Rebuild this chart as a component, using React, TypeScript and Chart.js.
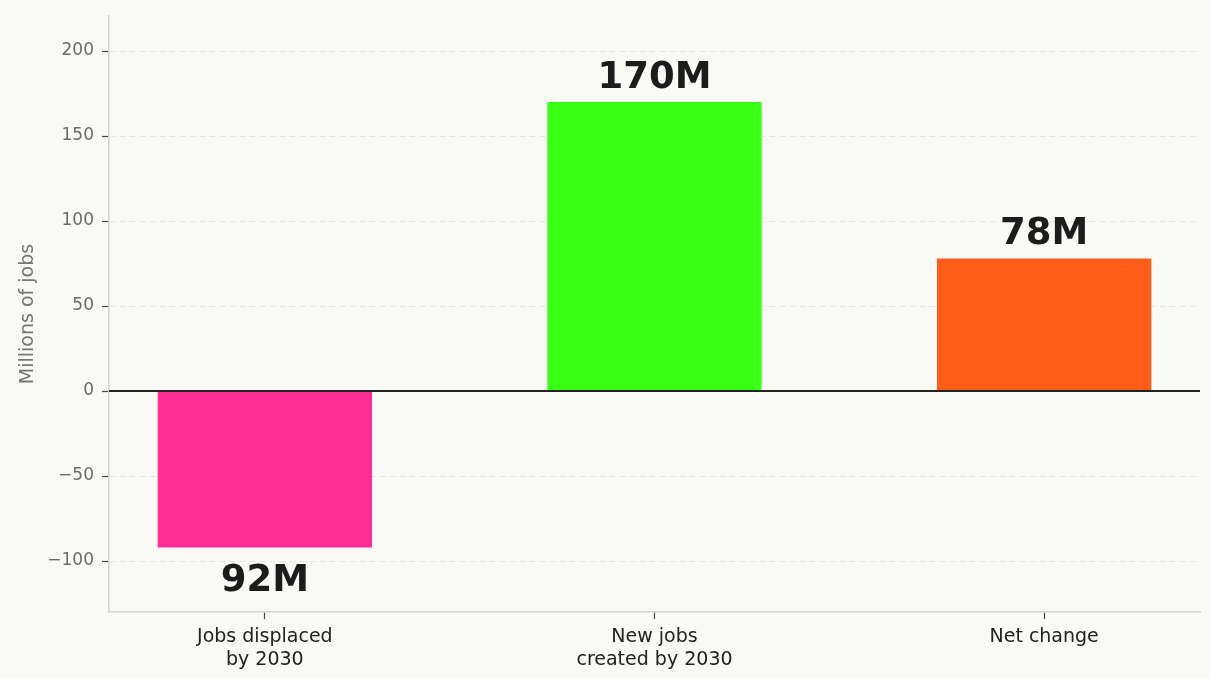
import React, { useEffect, useRef } from "react";
import { Chart, registerables } from "chart.js";

Chart.register(...registerables);

const categories: string[][] = [["Jobs displaced", "by 2030"], ["New jobs", "created by 2030"], ["Net change"]];
const values: number[] = [-92, 170, 78];
const valueLabels: string[] = ["92M", "170M", "78M"];
const barColors: string[] = ["#ff2d95", "#39ff14", "#ff5e1a"];
const yTicks: number[] = [-100, -50, 0, 50, 100, 150, 200];
const yTitle = "Millions of jobs";

const BG = "#f9f9f5";

const bgPlugin = {
  id: "bg",
  beforeDraw(chart: any) {
    const ctx = chart.ctx;
    ctx.save();
    ctx.fillStyle = BG;
    ctx.fillRect(0, 0, chart.width, chart.height);
    ctx.restore();
  },
};

const zeroAndLabels = {
  id: "zeroAndLabels",
  afterDatasetsDraw(chart: any) {
    const ctx = chart.ctx;
    const { left, right } = chart.chartArea;
    const y0 = chart.scales.y.getPixelForValue(0);
    ctx.save();
    ctx.strokeStyle = "#222222";
    ctx.lineWidth = 2;
    ctx.beginPath();
    ctx.moveTo(left, y0);
    ctx.lineTo(right, y0);
    ctx.stroke();

    const meta = chart.getDatasetMeta(0);
    ctx.fillStyle = "#1c1c1c";
    ctx.font = "bold 37px 'DejaVu Sans'";
    ctx.textAlign = "center";
    ctx.textBaseline = "alphabetic";
    meta.data.forEach((el: any, i: number) => {
      const v = values[i];
      if (v >= 0) {
        ctx.fillText(valueLabels[i], el.x, el.y - 14);
      } else {
        ctx.fillText(valueLabels[i], el.x, el.y + 44);
      }
    });
    ctx.restore();
  },
};

export default function App() {
  const ref = useRef<HTMLCanvasElement | null>(null);
  useEffect(() => {
    document.body.style.margin = "0";
    document.body.style.background = BG;
    const canvas = ref.current!;
    const chart = new Chart(canvas, {
      type: "bar",
      data: {
        datasets: [
          {
            data: values.map((v, i) => ({ x: i, y: v })),
            backgroundColor: barColors,
            borderWidth: 0,
            categoryPercentage: 1,
            barPercentage: 0.55,
          },
        ],
      },
      options: {
        animation: false,
        responsive: false,
        layout: { padding: { top: 16, right: 11, left: 0, bottom: 0 } },
        plugins: { legend: { display: false }, tooltip: { enabled: false } },
        scales: {
          x: {
            type: "linear",
            offset: false,
            min: -0.4,
            max: 2.4,
            afterBuildTicks: (scale: any) => {
              scale.ticks = categories.map((_, i) => ({ value: i }));
            },
            afterFit: (scale: any) => {
              scale.height = 67;
              scale.paddingLeft = 0;
              scale.paddingRight = 0;
            },
            ticks: {
              autoSkip: false,
              maxRotation: 0,
              padding: 7,
              color: "#222222",
              font: { family: "'DejaVu Sans'", size: 19 },
              callback: (v: any) => categories[Math.round(Number(v))] ?? "",
            },
            grid: {
              offset: false,
              drawOnChartArea: false,
              drawTicks: true,
              tickLength: 7,
              tickColor: "#444444",
              tickWidth: 1.2,
            },
            border: { color: "#d4d4d0", width: 1.5 },
          },
          y: {
            min: -130,
            max: 220.6,
            afterBuildTicks: (scale: any) => {
              scale.ticks = yTicks.map((v) => ({ value: v }));
            },
            afterFit: (scale: any) => {
              scale.width = 109;
              scale.paddingTop = 0;
              scale.paddingBottom = 0;
            },
            ticks: {
              padding: 8,
              color: "#6b6b6b",
              font: { family: "'DejaVu Sans'", size: 17 },
              callback: (v: any) => {
                const n = Number(v);
                return n < 0 ? "\u2212" + Math.abs(n) : String(n);
              },
            },
            grid: {
              color: (c: any) => (c.tick && c.tick.value === 0 ? "rgba(0,0,0,0)" : "#e6e6e1"),
              lineWidth: 1,
              drawTicks: true,
              tickLength: 7,
              tickColor: "#444444",
              tickWidth: 1.2,
              tickBorderDash: [],
            },
            border: { color: "#d4d4d0", width: 1.5, dash: [6, 4] },
            title: {
              display: true,
              text: yTitle,
              color: "#777777",
              font: { family: "'DejaVu Sans'", size: 19 },
              padding: { top: 17, bottom: 0 },
            },
          },
        },
      },
      plugins: [bgPlugin, zeroAndLabels],
    } as any);
    return () => chart.destroy();
  }, []);
  return (
    <div style={{ width: 1211, height: 679, background: BG }}>
      <canvas ref={ref} width={1211} height={679} style={{ display: "block" }} />
    </div>
  );
}
